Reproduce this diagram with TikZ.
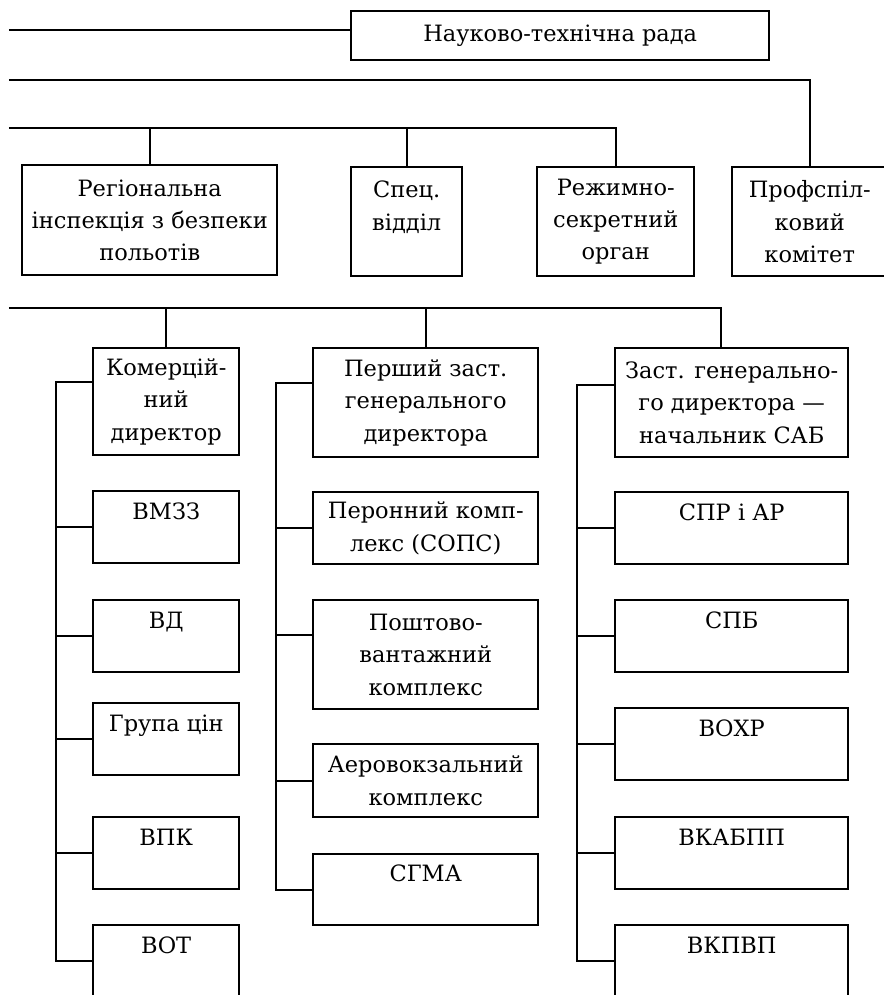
\documentclass[tikz,border=0pt]{standalone}
\usepackage{fontspec}
\setmainfont{DejaVu Serif}
\usetikzlibrary{positioning,calc}

\tikzset{
    unit/.style={draw, line width=0.7pt, align=center, inner sep=1pt, anchor=north west,
        font=\fontsize{6.4}{9.2}\selectfont},
    link/.style={line width=0.7pt},
}
\newcommand{\blankrow}{\\\mbox{}}

\begin{document}
\begin{tikzpicture}
    \useasboundingbox (0,0) rectangle (8.84,-9.95);

    % Upper level
    \node[unit, minimum width=4.18cm, minimum height=0.49cm] (rada) at (3.50,-0.10) {Науково-технічна рада};
    \node[unit, minimum width=2.55cm, minimum height=1.10cm] (regional) at (0.21,-1.64) {Регіональна\\інспекція з безпеки\\польотів};
    \node[unit, minimum width=1.11cm, minimum height=1.09cm] (spec) at (3.50,-1.66) {Спец.\\відділ\blankrow};
    \node[unit, minimum width=1.57cm, minimum height=1.09cm] (rezhym) at (5.36,-1.66) {Режимно-\\секретний\\орган};
    \node[unit, minimum width=1.55cm, minimum height=1.09cm] (prof) at (7.31,-1.66) {Профспіл-\\ковий\\комітет};

    % Lines coming in from the left
    \coordinate (l1) at (0.09,-0.30);
    \coordinate (l2) at (0.09,-0.80);
    \coordinate (l3) at (0.09,-1.28);
    \coordinate (l4) at (0.09,-3.08);

    \draw[link] (l1) -- (l1 -| rada.west);
    \draw[link] (l2) -| (prof.north);
    \draw[link] (l3) -| (rezhym.north);
    \draw[link] (l3 -| regional.north) -- (regional.north);
    \draw[link] (l3 -| spec.north) -- (spec.north);

    % Deputies
    \node[unit, minimum width=1.46cm, minimum height=1.07cm] (kom) at (0.92,-3.47) {Комерцій-\\ний\\директор};
    \node[unit, minimum width=2.25cm, minimum height=1.09cm] (pershyi) at (3.12,-3.47) {Перший заст.\\генерального\\директора};
    \node[unit, minimum width=2.33cm, minimum height=1.09cm] (zast) at (6.14,-3.47) {Заст. генерально-\\го директора —\\начальник САБ};

    \draw[link] (l4) -| ([xshift=-1.1mm]zast.north);
    \draw[link] (l4 -| kom.north) -- (kom.north);
    \draw[link] (l4 -| pershyi.north) -- (pershyi.north);

    % Column of the commercial director
    \foreach \n/\top/\txt in {vmzz/4.90/ВМЗЗ, vd/5.99/ВД, grupa/7.02/Група цін, vpk/8.16/ВПК, vot/9.24/ВОТ} {
        \node[unit, minimum width=1.46cm, minimum height=0.72cm] (\n) at (0.92,-\top) {\txt\blankrow};
    }
    \coordinate (trunkA) at (0.56,0);
    \coordinate (ka) at ($(kom.north west)+(0,-0.35)$);
    \draw[link] (ka) -- (ka -| trunkA) |- (vot.west);
    \foreach \n in {vmzz, vd, grupa, vpk} {
        \draw[link] (\n.west) -- (\n.west -| trunkA);
    }

    % Column of the first deputy
    \node[unit, minimum width=2.25cm, minimum height=0.72cm] (peron) at (3.12,-4.91) {Перонний комп-\\лекс (СОПС)};
    \node[unit, minimum width=2.25cm, minimum height=1.09cm] (posht) at (3.12,-5.99) {Поштово-\\вантажний\\комплекс};
    \node[unit, minimum width=2.25cm, minimum height=0.73cm] (aero) at (3.12,-7.43) {Аеровокзальний\\комплекс};
    \node[unit, minimum width=2.25cm, minimum height=0.71cm] (sgma) at (3.12,-8.53) {СГМА\blankrow};
    \coordinate (trunkB) at (2.76,0);
    \coordinate (pa) at ($(pershyi.north west)+(0,-0.36)$);
    \coordinate (pb) at ($(posht.north west)+(0,-0.36)$);
    \draw[link] (pa) -- (pa -| trunkB) |- (sgma.west);
    \draw[link] (pb) -- (pb -| trunkB);
    \foreach \n in {peron, aero} {
        \draw[link] (\n.west) -- (\n.west -| trunkB);
    }

    % Column of the deputy for aviation security
    \foreach \n/\top/\txt in {spr/4.91/СПР і АР, spb/5.99/СПБ, vohr/7.07/ВОХР, vkab/8.16/ВКАБПП, vkpv/9.24/ВКПВП} {
        \node[unit, minimum width=2.33cm, minimum height=0.72cm] (\n) at (6.14,-\top) {\txt\blankrow};
    }
    \coordinate (trunkC) at (5.77,0);
    \coordinate (za) at ($(zast.north west)+(0,-0.38)$);
    \draw[link] (za) -- (za -| trunkC) |- (vkpv.west);
    \foreach \n in {spr, spb, vohr, vkab} {
        \draw[link] (\n.west) -- (\n.west -| trunkC);
    }

\end{tikzpicture}
\end{document}
